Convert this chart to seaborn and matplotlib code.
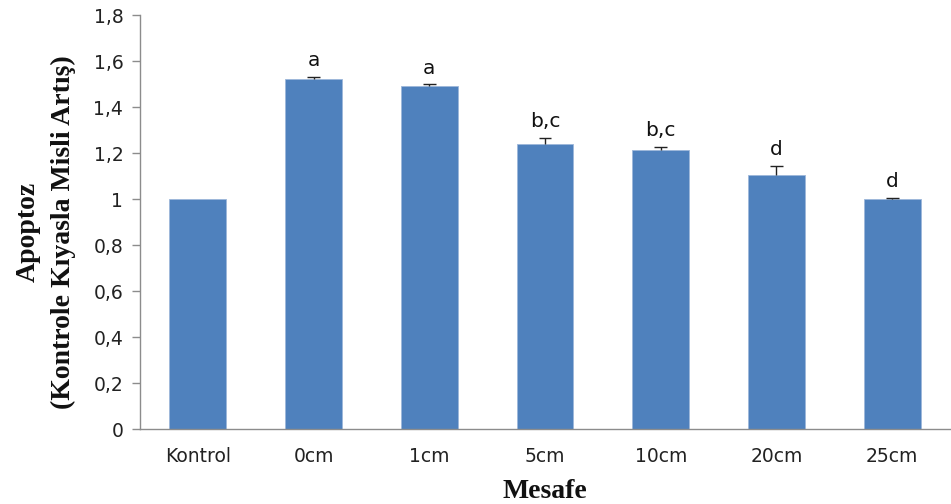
import matplotlib
matplotlib.use("Agg")
import matplotlib.pyplot as plt
import seaborn as sns
import pandas as pd
import numpy as np

# Fold increase in apoptosis relative to control, by distance
groups = ["Kontrol", "0cm", "1cm", "5cm", "10cm", "20cm", "25cm"]
means = [1.0, 1.52, 1.49, 1.24, 1.213, 1.105, 1.0]
errors = [0.0, 0.01, 0.008, 0.027, 0.012, 0.04, 0.003]
letters = ["", "a", "a", "b,c", "b,c", "d", "d"]
yticks = [0, 0.2, 0.4, 0.6, 0.8, 1.0, 1.2, 1.4, 1.6, 1.8]
ytick_labels = ["0", "0,2", "0,4", "0,6", "0,8", "1", "1,2", "1,4", "1,6", "1,8"]

sns.set_style("white")
plt.rcParams["font.family"] = ["DejaVu Sans"]

df = pd.DataFrame({"Mesafe": groups, "Apoptoz": means})

fig = plt.figure(figsize=(9.51, 5.04), dpi=100)
ax = fig.add_axes([0.1472, 0.1488, 0.8518, 0.8214])

bar_color = "#4F81BD"
sns.barplot(data=df, x="Mesafe", y="Apoptoz", color=bar_color, width=0.49,
            saturation=1, edgecolor="#9DB7DA", linewidth=0.6, errorbar=None, ax=ax)

# upper-only error bars: stem plus a cap on top
xpos = np.arange(len(groups))
tops = np.array(means) + np.array(errors)
cap_half = 0.055
for x, m, t, e in zip(xpos, means, tops, errors):
    if e > 0:
        ax.vlines(x, m, t, color="#222222", linewidth=1.0, zorder=3)
        ax.hlines(t, x - cap_half, x + cap_half, color="#222222", linewidth=1.0, zorder=3)

for x, t, lab in zip(xpos, tops, letters):
    if lab:
        ax.annotate(lab, (x, t), xytext=(0, 5), textcoords="offset points",
                    ha="center", va="bottom", fontsize=14.5, color="#111111")

ax.set_ylim(0, 1.8)
ax.set_xlim(-0.5, len(groups) - 0.5)
ax.set_yticks(yticks)
ax.set_yticklabels(ytick_labels)

# ticks on the x axis sit between the categories
ax.set_xticks(xpos)
ax.set_xticks(np.arange(-0.5, len(groups) - 0.4, 1.0), minor=True)
ax.tick_params(axis="x", which="major", length=0, pad=13, labelsize=13.5, colors="#222222")
ax.tick_params(axis="x", which="minor", length=6, width=1, color="#8C8C8C", direction="out")
ax.tick_params(axis="y", which="major", length=6, width=1, color="#8C8C8C", direction="out",
               labelsize=13.5, pad=6, labelcolor="#222222", left=True)

for side in ["top", "right"]:
    ax.spines[side].set_visible(False)
for side in ["left", "bottom"]:
    ax.spines[side].set_color("#8C8C8C")
    ax.spines[side].set_linewidth(1.0)

ax.set_xlabel("Mesafe", fontsize=20, fontweight="bold", family="Liberation Serif",
              color="#111111")
ax.xaxis.set_label_coords(0.5, -0.12)
ax.set_ylabel("Apoptoz\n(Kontrole Kıyasla Misli Artış)", fontsize=20, fontweight="bold",
              family="Liberation Serif", color="#111111", linespacing=1.55)
ax.yaxis.set_label_coords(-0.079, 0.475)

fig.savefig("out.png", dpi=100)
